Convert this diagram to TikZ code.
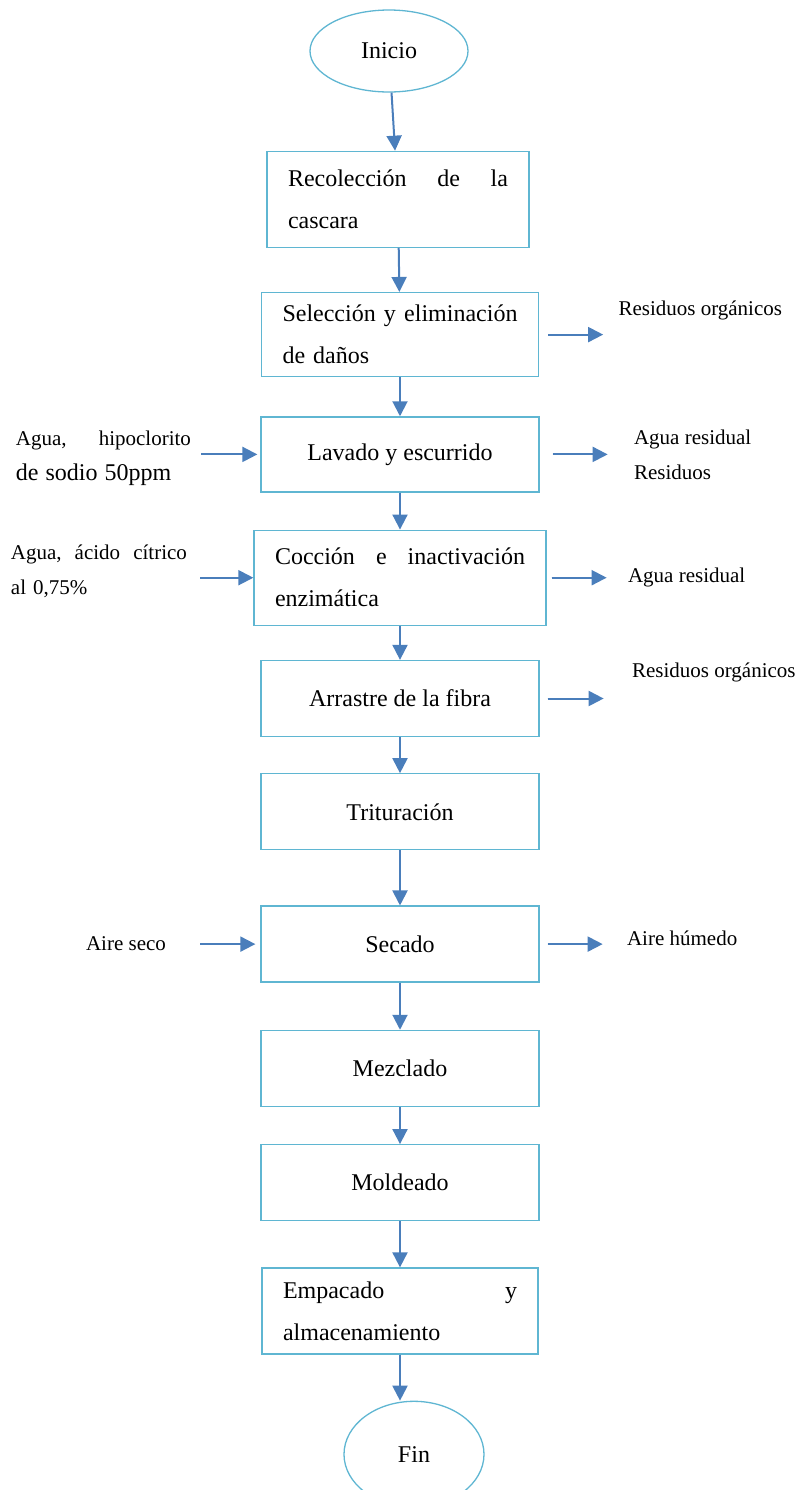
\documentclass[tikz,border=0pt]{standalone}
\usepackage{fontspec}
\setmainfont{Liberation Serif}
\usepackage{xcolor}
\usetikzlibrary{arrows.meta, positioning, shapes.geometric}

\definecolor{boxline}{RGB}{95,182,210}
\definecolor{arrline}{RGB}{74,126,187}

\begin{document}
\begin{tikzpicture}[
  node distance=20pt,
  stepbox/.style={draw=boxline, line width=0.65pt, minimum width=139pt, minimum height=38pt,
                  inner xsep=10.5pt, align=center, font={\fontsize{12}{21}\selectfont}},
  longbox/.style={stepbox, minimum width=0pt, align=left},
  terminal/.style={draw=boxline, ellipse, line width=0.65pt, inner sep=0pt,
                   font={\fontsize{12}{14}\selectfont}},
  side/.style={inner sep=0pt, align=left, font={\fontsize{10.5}{17.5}\selectfont}},
  arr/.style={-{Triangle[length=7.5pt, width=7.5pt]}, line width=1pt, draw=arrline, fill=arrline}
]
\useasboundingbox (0,0) rectangle (402.5pt,-745pt);

% Start
\node[terminal, minimum width=79pt, minimum height=41pt] (ini) at (194.5pt,-25.5pt) {Inicio};

% Process steps
\node[longbox, text width=110pt, minimum height=48pt, below=29pt of ini, xshift=4.5pt] (s1)
  {Recolección \hfill de \hfill la\\cascara};
\node[longbox, text width=117.5pt, minimum height=42pt, below=22pt of s1, xshift=1pt] (s2)
  {Selección \hfill y \hfill eliminación\\de daños};
\node[stepbox, minimum height=37.5pt, below=19.5pt of s2] (s3) {Lavado y escurrido};
\node[longbox, text width=125pt, minimum height=47.5pt, below=18.5pt of s3] (s4)
  {Cocción \hfill e \hfill inactivación\\enzimática};
\node[stepbox, below=17pt of s4] (s5) {Arrastre de la fibra};
\node[stepbox, below=18pt of s5] (s6) {Trituración};
\node[stepbox, below=27.5pt of s6] (s7) {Secado};
\node[stepbox, below=23.5pt of s7] (s8) {Mezclado};
\node[stepbox, below=18.5pt of s8] (s9) {Moldeado};
\node[longbox, text width=117pt, minimum height=43pt, below=23pt of s9] (s10)
  {Empacado \hfill y\\almacenamiento};

% End
\node[terminal, minimum width=70pt, minimum height=53pt, below=23pt of s10, xshift=7pt] (fin) {Fin};

% Main flow
\draw[arr] (ini) -- (s1);
\draw[arr] (s1) -- (s2);
\draw[arr] (s2) -- (s3);
\draw[arr] (s3) -- (s4);
\draw[arr] (s4) -- (s5);
\draw[arr] (s5) -- (s6);
\draw[arr] (s6) -- (s7);
\draw[arr] (s7) -- (s8);
\draw[arr] (s8) -- (s9);
\draw[arr] (s9) -- (s10);
\draw[arr] (s10) -- (s10 |- fin.north);

% Inputs
\node[side, text width=87.5pt, left=34.5pt of s3, yshift=-2pt] (i3)
  {Agua, \hfill hipoclorito\\{\fontsize{12}{17.5}\selectfont de sodio 50ppm}};
\node[side, text width=88pt, left=33pt of s4, yshift=3pt] (i4)
  {Agua, \hfill ácido \hfill cítrico\\al 0,75\%};
\node[side, left=47pt of s7] (i7) {Aire seco};

\draw[arr, shorten <=5pt, shorten >=1.5pt] (s3.west -| i3.east) -- (s3.west);
\draw[arr, shorten <=6.5pt] (s4.west -| i4.east) -- (s4.west);
\draw[arr, shorten <=17pt, shorten >=2.5pt] (s7.west -| i7.east) -- (s7.west);

% Outputs
\node[side, right=39.5pt of s2, yshift=12pt] (o2) {Residuos orgánicos};
\node[side, right=47pt of s3] (o3) {Agua residual\\Residuos};
\node[side, right=40.5pt of s4] (o4) {Agua residual};
\node[side, right=46pt of s5, yshift=13pt] (o5) {Residuos orgánicos};
\node[side, right=43.5pt of s7, yshift=3pt] (o7) {Aire húmedo};

\draw[arr, shorten <=4.5pt, shorten >=7.5pt] (s2.east) -- (s2.east -| o2.west);
\draw[arr, shorten <=6.5pt, shorten >=13pt] (s3.east) -- (s3.east -| o3.west);
\draw[arr, shorten <=2.5pt, shorten >=10.5pt] (s4.east) -- (s4.east -| o4.west);
\draw[arr, shorten <=4pt, shorten >=14pt] (s5.east) -- (s5.east -| o5.west);
\draw[arr, shorten <=4pt, shorten >=12pt] (s7.east) -- (s7.east -| o7.west);
\end{tikzpicture}
\end{document}
